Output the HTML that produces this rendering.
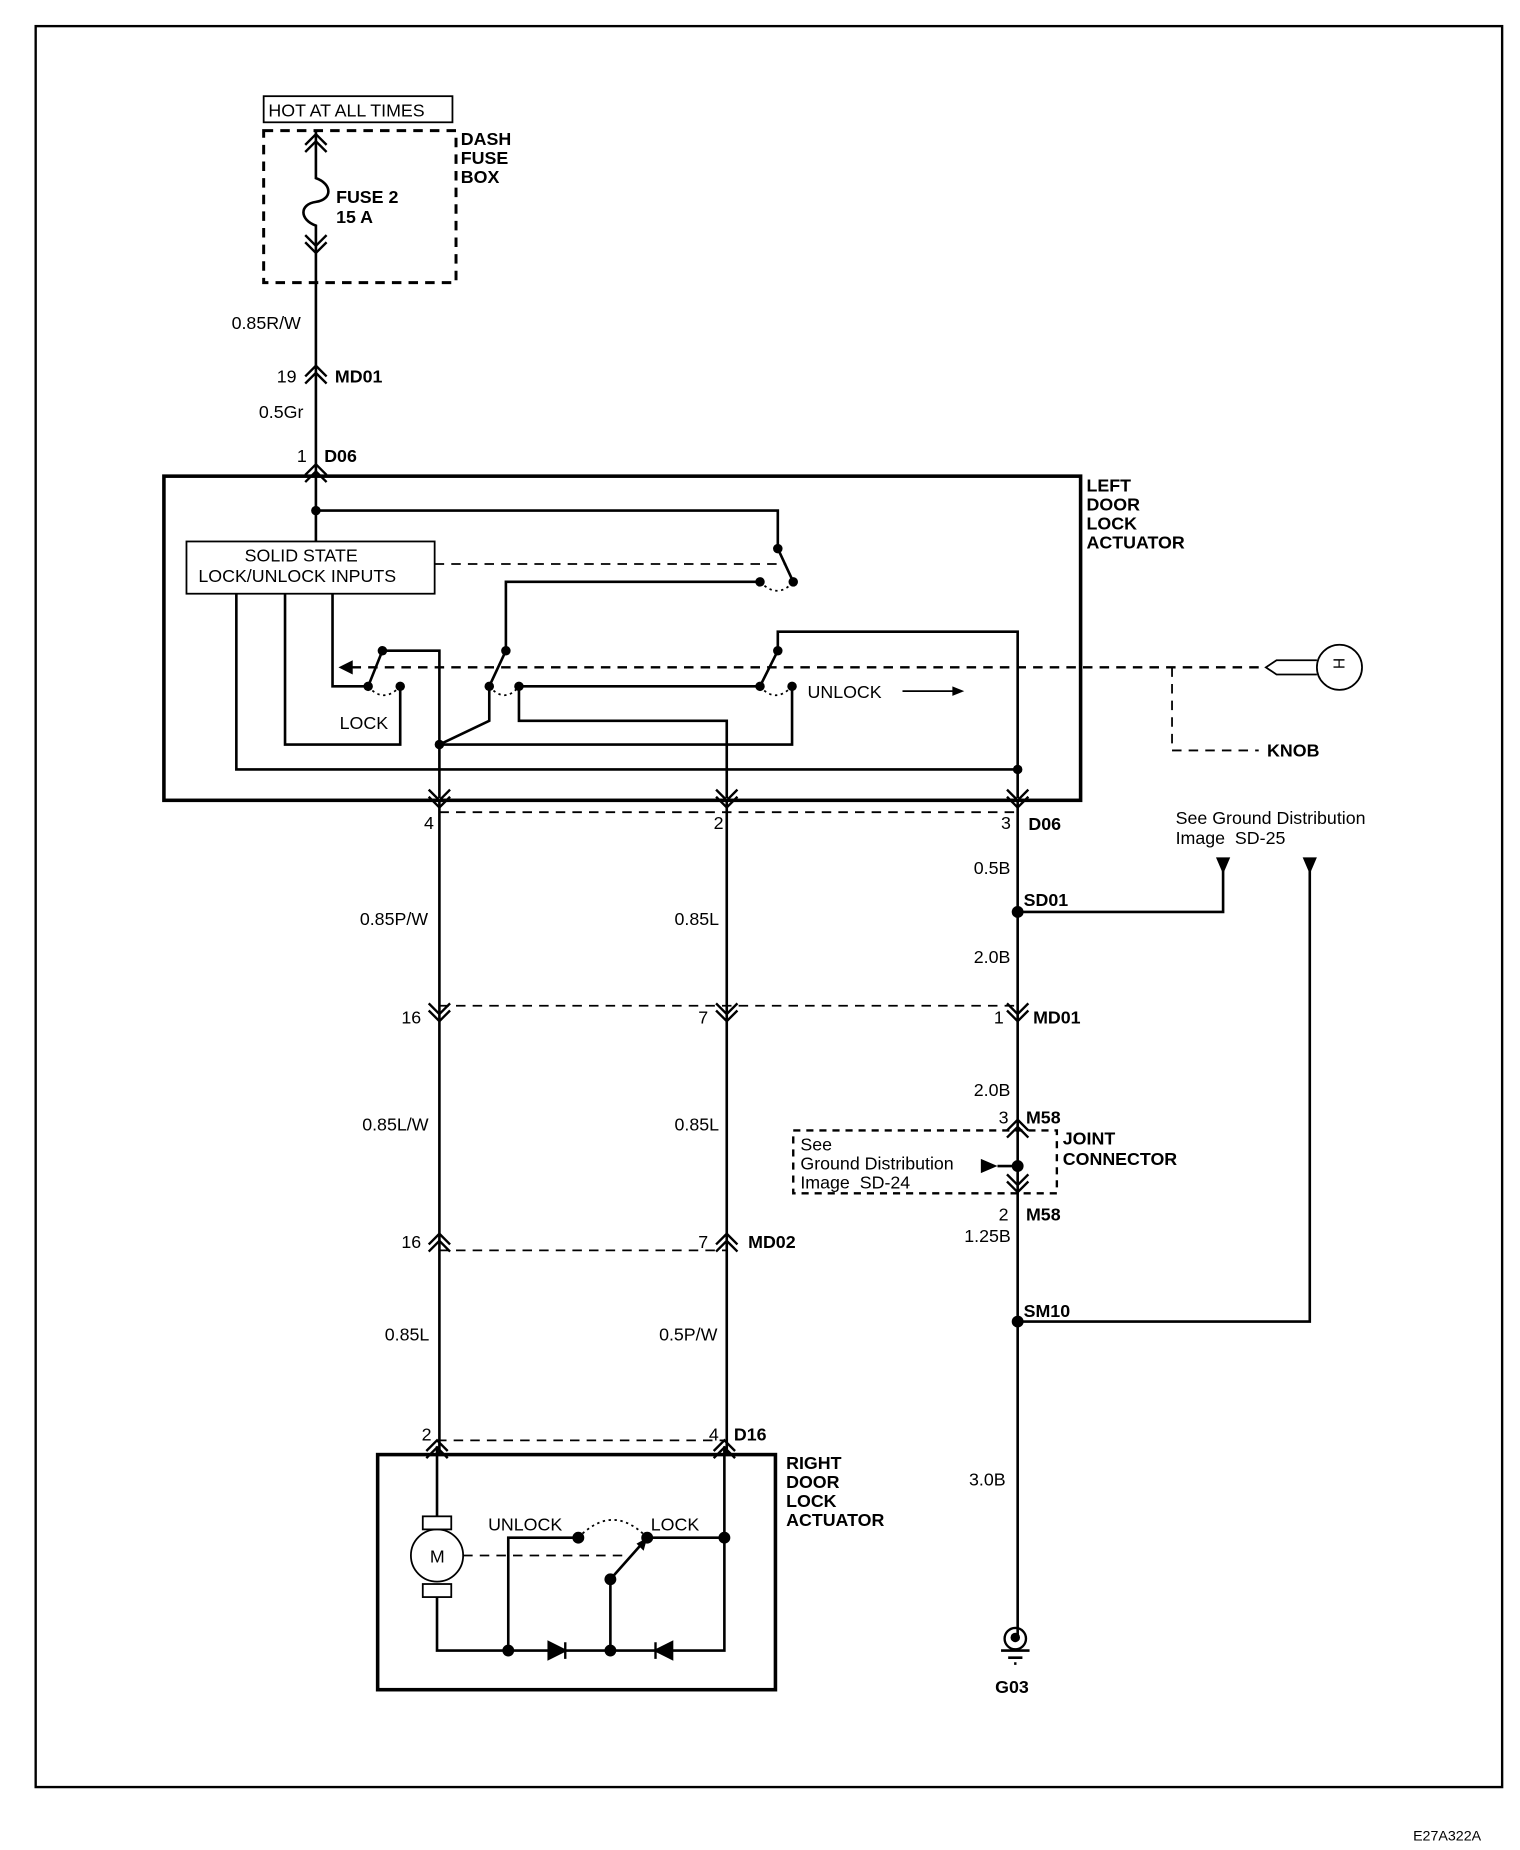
<!DOCTYPE html>
<html><head><meta charset="utf-8"><style>
html,body{margin:0;padding:0;background:#fff;}
svg{display:block;}
text{font-family:"Liberation Sans",Arial,sans-serif;font-size:15px;fill:#000;}
.b{font-weight:bold;}
</style></head><body>
<svg width="1520" height="1850" viewBox="0 0 1280 1558" xmlns="http://www.w3.org/2000/svg">
<defs>
<g id="cu"><path d="M-9,9 L0,0 L9,9 M-9,15 L0,6 L9,15" fill="none" stroke="#000" stroke-width="2"/></g>
<g id="cd"><path d="M-9,-9 L0,0 L9,-9 M-9,-15 L0,-6 L9,-15" fill="none" stroke="#000" stroke-width="2"/></g>
</defs>
<rect x="30" y="22" width="1235" height="1483" fill="none" stroke="#000" stroke-width="2"/>
<text x="1190" y="1550" style="font-size:12px">E27A322A</text>

<g fill="none" stroke="#000" stroke-width="2.2">
<!-- top -->
<rect x="222" y="81" width="159" height="22" stroke-width="1.5"/>
<rect x="222" y="110" width="162" height="128" stroke-dasharray="8,6" stroke-width="2.5"/>
<path d="M266,110 V150 C280,155 280,168 266,170 C252,172 252,185 266,190 V238 M266,238 V400"/>
<path d="M266,430 H655 V462 L668,490"/>
<rect x="157" y="456" width="209" height="44" stroke-width="1.5"/>
<path d="M640,490 H426 V548 L412,578 V607 L370,627"/>
<path d="M437,578 H640 L655,548 V532 H857 V672"/>
<path d="M667,578 V627 H370"/>
<path d="M437,578 V607 H612 V672"/>
<path d="M322,548 H370 V672 M322,548 L310,578 H280 V500"/>
<path d="M337,578 V627 H240 V500"/>
<path d="M199,500 V648 H857"/>
<path d="M266,400 V456"/>
<rect x="138" y="401" width="772" height="273" stroke-width="3"/>
<!-- verticals -->
<path d="M370,674 V1225 M612,674 V1225 M857,674 V1380"/>
<path d="M857,768 H1030 V728 M1103,728 V1113 H857"/>
<rect x="668" y="952" width="222" height="53" stroke-dasharray="6,5" stroke-width="2"/>
<path d="M840,982 H857"/>
<!-- right actuator -->
<rect x="318" y="1225" width="335" height="198" stroke-width="3"/>
<path d="M368,1218 V1277 M368,1345 V1390 H610 V1218"/>
<path d="M428,1390 V1295 H487 M545,1295 H610 M514,1390 V1330 L545,1295"/>
<rect x="356" y="1277" width="24" height="11" stroke-width="1.5"/>
<rect x="356" y="1334" width="24" height="11" stroke-width="1.5"/>
<circle cx="368" cy="1310" r="22" stroke-width="1.5"/>
<!-- ground -->
<circle cx="855" cy="1380" r="9" stroke-width="2"/>
<path d="M843,1390 H867 M849,1396 H861 M854,1401 H856"/>
<!-- key -->
<circle cx="1128" cy="562" r="19" stroke-width="1.5"/>
<path d="M1109,556 H1075 L1066,562 L1075,568 H1109" stroke-width="1.5"/>
</g>
<!-- dashed lines -->
<g fill="none" stroke="#000" stroke-width="1.5" stroke-dasharray="8,6">
<path d="M366,475 H662"/>
<path d="M1060,562 H290" stroke-width="2"/>
<path d="M987,562 V632 H1060"/>
<path d="M370,684 H857 M370,847 H857 M370,1053 H612 M368,1213 H610"/>
<path d="M390,1310 H530"/>
</g>
<g fill="none" stroke="#000" stroke-width="1.5" stroke-dasharray="2,3">
<path d="M640,490 Q655,505 668,490 M310,578 Q323,593 337,578 M412,578 Q425,593 437,578 M640,578 Q653,593 667,578 M487,1295 Q516,1265 545,1295"/>
</g>
<path d="M285,562 L297,556 L297,568 Z"/>
<path d="M760,582 H805" stroke="#000" stroke-width="1.5"/><path d="M812,582 L802,578 L802,586 Z"/>
<path d="M1024,722 H1036 L1030,736 Z M1097,722 H1109 L1103,736 Z M826,976 V988 L840,982 Z"/>
<path d="M545,1295 L536,1300 L542,1306 Z"/>
<path d="M462,1383 V1397 L476,1390 Z M476,1383 V1397" stroke="#000" stroke-width="2"/>
<path d="M566,1383 V1397 L552,1390 Z M552,1383 V1397" stroke="#000" stroke-width="2"/>
<circle cx="855" cy="1379" r="4"/>
<!-- dots -->
<g>
<circle cx="266" cy="430" r="4"/><circle cx="655" cy="462" r="4"/><circle cx="668" cy="490" r="4"/><circle cx="640" cy="490" r="4"/>
<circle cx="426" cy="548" r="4"/><circle cx="412" cy="578" r="4"/><circle cx="437" cy="578" r="4"/>
<circle cx="322" cy="548" r="4"/><circle cx="310" cy="578" r="4"/><circle cx="337" cy="578" r="4"/>
<circle cx="655" cy="548" r="4"/><circle cx="640" cy="578" r="4"/><circle cx="667" cy="578" r="4"/>
<circle cx="370" cy="627" r="4"/><circle cx="857" cy="648" r="4"/>
<circle cx="857" cy="768" r="5"/><circle cx="857" cy="982" r="5"/><circle cx="857" cy="1113" r="5"/>
<circle cx="428" cy="1390" r="5"/><circle cx="514" cy="1390" r="5"/><circle cx="487" cy="1295" r="5"/><circle cx="545" cy="1295" r="5"/><circle cx="610" cy="1295" r="5"/><circle cx="514" cy="1330" r="5"/>
</g>
<!-- connectors -->
<use href="#cu" x="266" y="113"/><use href="#cd" x="266" y="213"/>
<use href="#cu" x="266" y="308"/><use href="#cu" x="266" y="391"/>
<use href="#cd" x="370" y="680"/><use href="#cd" x="612" y="680"/><use href="#cd" x="857" y="680"/>
<use href="#cd" x="370" y="860"/><use href="#cd" x="612" y="860"/><use href="#cd" x="857" y="860"/>
<use href="#cu" x="857" y="943"/><use href="#cd" x="857" y="1004"/>
<use href="#cu" x="370" y="1039"/><use href="#cu" x="612" y="1039"/>
<use href="#cu" x="368" y="1213"/><use href="#cu" x="610" y="1213"/>
<!-- text -->
<text x="226" y="98">HOT AT ALL TIMES</text>
<text class="b" x="388" y="122">DASH</text><text class="b" x="388" y="138">FUSE</text><text class="b" x="388" y="154">BOX</text>
<text class="b" x="283" y="171">FUSE 2</text><text class="b" x="283" y="188">15 A</text>
<text x="195" y="277">0.85R/W</text>
<text x="233" y="322">19</text><text class="b" x="282" y="322">MD01</text>
<text x="218" y="352">0.5Gr</text>
<text x="250" y="389">1</text><text class="b" x="273" y="389">D06</text>
<text class="b" x="915" y="414">LEFT</text><text class="b" x="915" y="430">DOOR</text><text class="b" x="915" y="446">LOCK</text><text class="b" x="915" y="462">ACTUATOR</text>
<text x="206" y="473">SOLID STATE</text><text x="167" y="490">LOCK/UNLOCK INPUTS</text>
<text x="286" y="614">LOCK</text>
<text x="680" y="588">UNLOCK</text>
<text class="b" x="1067" y="637">KNOB</text>
<text x="1120" y="567" transform="rotate(90 1128 562)" style="font-size:13px">H</text>
<text x="357" y="698">4</text><text x="601" y="698">2</text><text x="843" y="698">3</text><text class="b" x="866" y="699">D06</text>
<text x="990" y="694">See Ground Distribution</text><text x="990" y="711">Image&#160;&#160;SD-25</text>
<text x="820" y="736">0.5B</text><text class="b" x="862" y="763">SD01</text>
<text x="303" y="779">0.85P/W</text><text x="568" y="779">0.85L</text>
<text x="820" y="811">2.0B</text>
<text x="338" y="862">16</text><text x="588" y="862">7</text><text x="837" y="862">1</text><text class="b" x="870" y="862">MD01</text>
<text x="820" y="923">2.0B</text>
<text x="305" y="952">0.85L/W</text><text x="568" y="952">0.85L</text>
<text x="841" y="946">3</text><text class="b" x="864" y="946">M58</text>
<text class="b" x="895" y="964">JOINT</text><text class="b" x="895" y="981">CONNECTOR</text>
<text x="674" y="969">See</text><text x="674" y="985">Ground Distribution</text><text x="674" y="1001">Image&#160;&#160;SD-24</text>
<text x="841" y="1028">2</text><text class="b" x="864" y="1028">M58</text>
<text x="812" y="1046">1.25B</text>
<text x="338" y="1051">16</text><text x="588" y="1051">7</text><text class="b" x="630" y="1051">MD02</text>
<text class="b" x="862" y="1109">SM10</text>
<text x="324" y="1129">0.85L</text><text x="555" y="1129">0.5P/W</text>
<text x="355" y="1213">2</text><text x="597" y="1213">4</text><text class="b" x="618" y="1213">D16</text>
<text class="b" x="662" y="1237">RIGHT</text><text class="b" x="662" y="1253">DOOR</text><text class="b" x="662" y="1269">LOCK</text><text class="b" x="662" y="1285">ACTUATOR</text>
<text x="816" y="1251">3.0B</text>
<text x="411" y="1289">UNLOCK</text><text x="548" y="1289">LOCK</text>
<text x="362" y="1316">M</text>
<text class="b" x="838" y="1426">G03</text>
</svg>
</body></html>
